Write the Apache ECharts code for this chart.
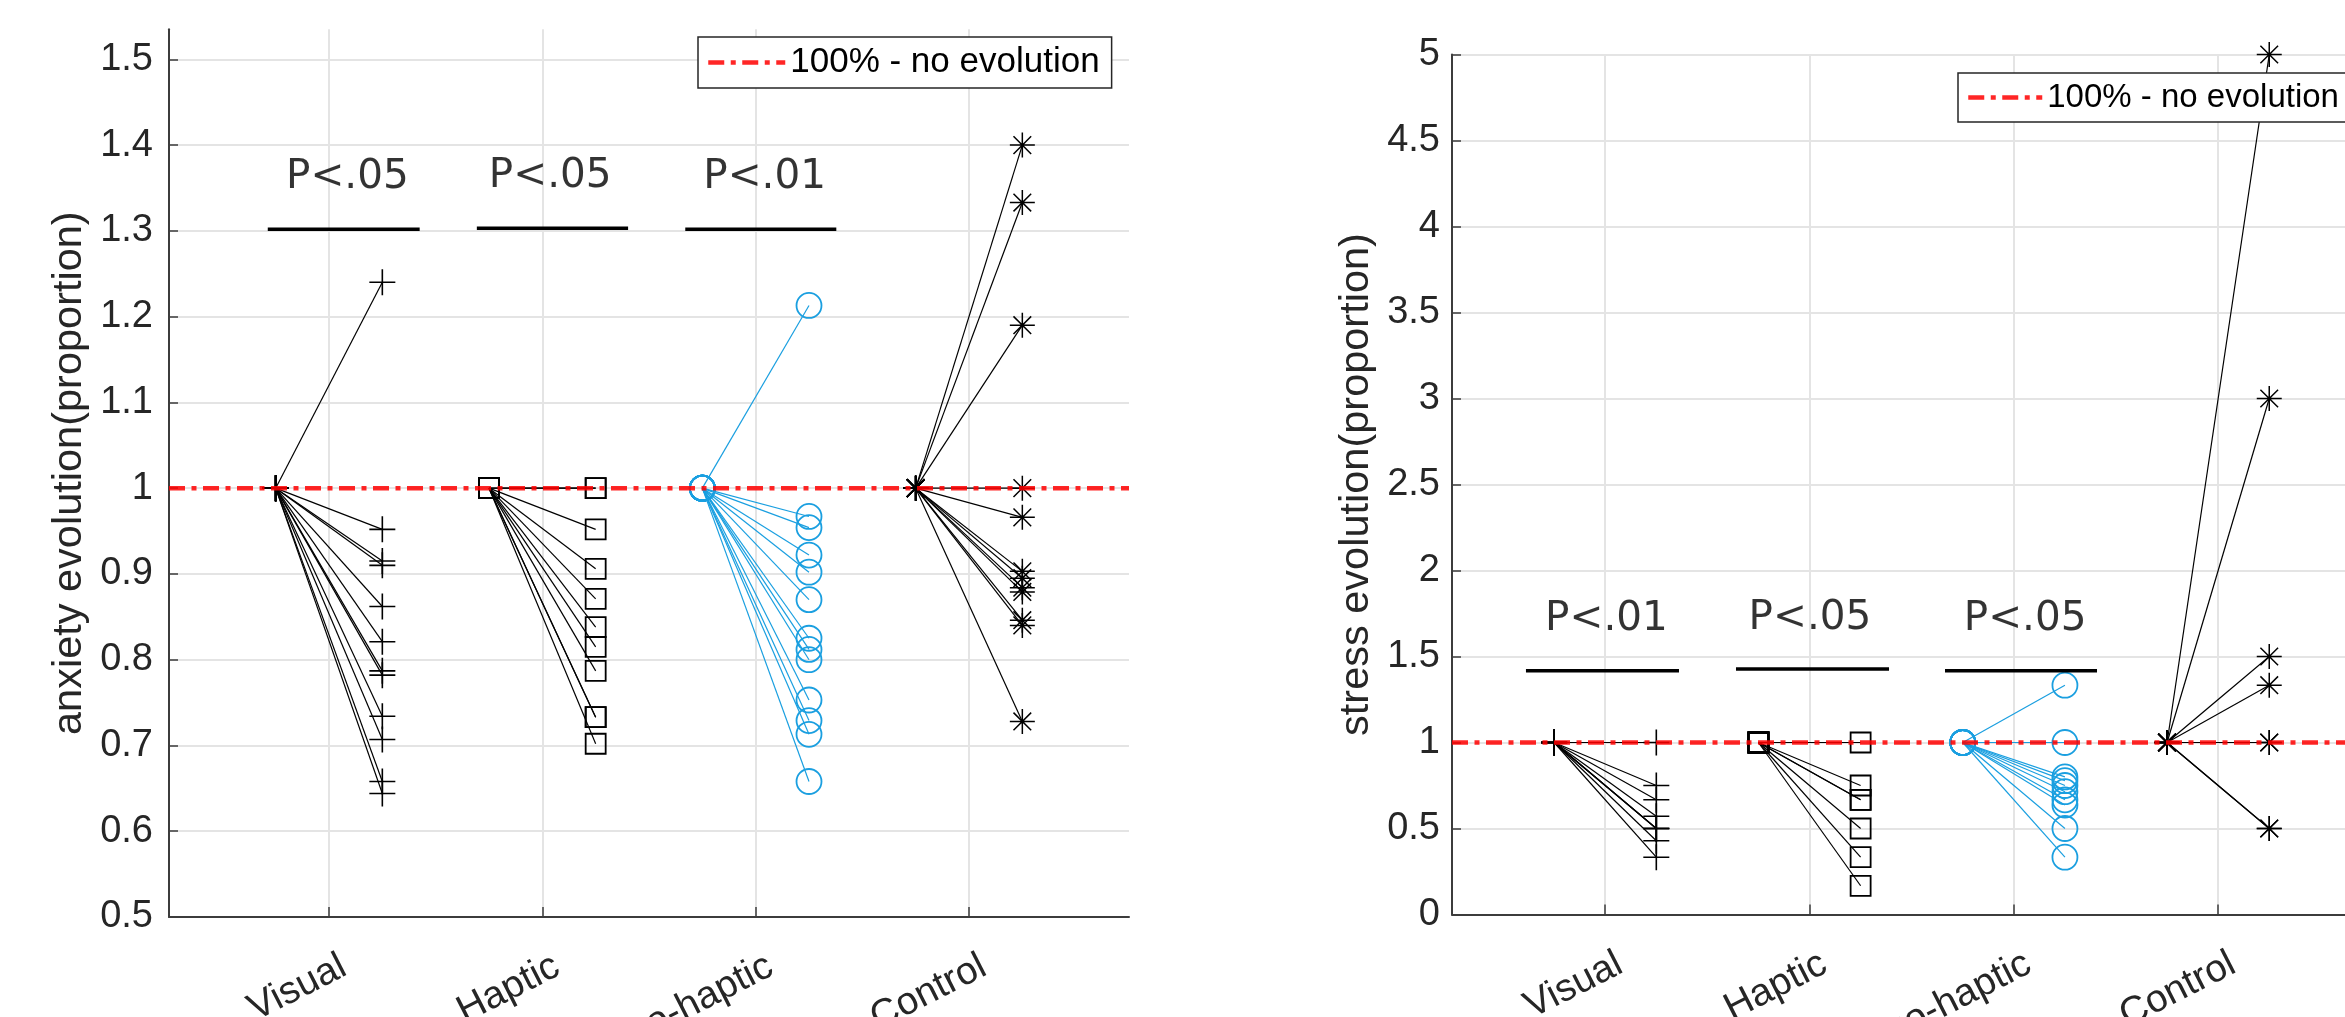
<!DOCTYPE html>
<html><head><meta charset="utf-8">
<script src="https://cdn.jsdelivr.net/npm/echarts@6/dist/echarts.min.js"></script>
<style>html,body{margin:0;padding:0;background:#fff}#c{width:2345px;height:1017px}</style>
</head><body><div id="c"></div>
<script>
// ---------- data ----------
const categories = ['Visual', 'Haptic', 'Visuo-haptic', 'Control'];
const categoryPos = [1, 2, 3, 4];
const preValue = 1; // every subject normalised to 1 before

const anxietyVisual = [1.24, 0.952, 0.915, 0.910, 0.862, 0.821, 0.787, 0.782, 0.734, 0.707, 0.658, 0.644];
const anxietyHaptic = [1.0, 1.0, 0.952, 0.906, 0.871, 0.838, 0.815, 0.787, 0.733, 0.733, 0.702];
const anxietyVisuoHaptic = [1.213, 0.967, 0.954, 0.922, 0.902, 0.870, 0.825, 0.812, 0.800, 0.753, 0.729, 0.713, 0.658];
const anxietyControl = [1.4, 1.333, 1.19, 1.0, 0.966, 0.903, 0.895, 0.884, 0.879, 0.846, 0.840, 0.728];

const stressVisual = [1.0, 0.75, 0.667, 0.571, 0.5, 0.5, 0.5, 0.429, 0.333];
const stressHaptic = [1.0, 0.75, 0.667, 0.667, 0.5, 0.333, 0.167];
const stressVisuoHaptic = [1.333, 1.0, 0.8, 0.778, 0.75, 0.714, 0.667, 0.636, 0.5, 0.333];
const stressControl = [5, 3, 1.5, 1.333, 1.0, 1.0, 0.5, 0.5];

const anxietyTicks = [0.5, 0.6, 0.7, 0.8, 0.9, 1.0, 1.1, 1.2, 1.3, 1.4, 1.5];
const stressTicks = [0, 0.5, 1, 1.5, 2, 2.5, 3, 3.5, 4, 4.5, 5];

const anxietySigText = ['P<.05', 'P<.05', 'P<.01'];
const anxietySigStart = [0.713, 1.693, 2.670];
const anxietySigEnd = [1.425, 2.402, 3.378];
const anxietySigY = [1.302, 1.303, 1.302];
const anxietySigTextX = [1.086, 2.037, 3.042];

const stressSigText = ['P<.01', 'P<.05', 'P<.05'];
const stressSigStart = [0.612, 1.640, 2.663];
const stressSigEnd = [1.361, 2.389, 3.407];
const stressSigY = [1.417, 1.427, 1.417];
const stressSigTextX = [1.006, 2.002, 3.055];

const legendName = '100% - no evolution';
const anxietyName = 'anxiety evolution(proportion)';
const stressName = 'stress evolution(proportion)';

// ---------- styles ----------
const PRE_OFF = -0.25, POST_OFF = 0.25;
const X_MIN = 0.25, X_MAX = 4.75;
const BLUE = '#1a9fe0';
const RED = 'rgba(255,0,0,0.85)';
const DASH = [16, 6.5, 5, 6.5];
const PLUS = 'path://M0,-10L0,10M-10,0L10,0';
const STAR = 'path://M0,-10L0,10M-10,0L10,0M-7.07,-7.07L7.07,7.07M-7.07,7.07L7.07,-7.07';
const markers = [
  {symbol: PLUS, size: 26, color: '#000', bw: 1.6},
  {symbol: 'rect', size: 20, color: '#000', bw: 1.8},
  {symbol: 'circle', size: 25, color: BLUE, bw: 1.8},
  {symbol: STAR, size: 25, color: '#000', bw: 1.5}
];
const axisColor = '#3c3c3c';
const textColor = '#262626';
const gridColor = '#e4e4e4';

const series = [];
function addSubjects(gi, groups) {
  groups.forEach((vals, ci) => {
    const m = markers[ci];
    const x = categoryPos[ci];
    vals.forEach(v => {
      series.push({
        type: 'line', xAxisIndex: gi, yAxisIndex: gi, z: 2,
        data: [[x + PRE_OFF, preValue], [x + POST_OFF, v]],
        symbol: m.symbol, symbolSize: m.size,
        itemStyle: {color: 'rgba(0,0,0,0)', borderColor: m.color, borderWidth: m.bw},
        lineStyle: {color: m.color, width: 1.2},
        silent: true, animation: false
      });
    });
  });
}
addSubjects(0, [anxietyVisual, anxietyHaptic, anxietyVisuoHaptic, anxietyControl]);
addSubjects(1, [stressVisual, stressHaptic, stressVisuoHaptic, stressControl]);

[0, 1].forEach(gi => {
  series.push({
    name: legendName, type: 'line', xAxisIndex: gi, yAxisIndex: gi, z: 5,
    data: [[X_MIN, preValue], [X_MAX, preValue]], symbol: 'none',
    itemStyle: {color: RED},
    lineStyle: {color: RED, width: 4.5, type: DASH, cap: 'butt'},
    silent: true, animation: false
  });
});

function addSig(gi, starts, ends, ys, texts, textX, dist) {
  starts.forEach((s, i) => {
    series.push({
      type: 'line', xAxisIndex: gi, yAxisIndex: gi, z: 3, symbol: 'none',
      data: [[s, ys[i]], [ends[i], ys[i]]],
      lineStyle: {color: '#000', width: 3.5}, silent: true, animation: false
    });
  });
  series.push({
    type: 'scatter', xAxisIndex: gi, yAxisIndex: gi, z: 6, symbolSize: 1,
    itemStyle: {color: 'rgba(0,0,0,0)'}, silent: true, animation: false,
    data: texts.map((t, i) => ({name: t, value: [textX[i], ys[i]]})),
    label: {show: true, position: 'top', distance: dist, formatter: '{b}',
      fontFamily: 'DejaVu Sans', fontSize: 40.5, color: '#000'}
  });
}
addSig(0, anxietySigStart, anxietySigEnd, anxietySigY, anxietySigText, anxietySigTextX, 31);
addSig(1, stressSigStart, stressSigEnd, stressSigY, stressSigText, stressSigTextX, 30);

function xAxisCfg(gi, shift) {
  return {
    type: 'value', gridIndex: gi, min: X_MIN, max: X_MAX,
    axisLine: {show: true, onZero: false, lineStyle: {color: axisColor, width: 2}},
    axisTick: {show: true, inside: true, length: 10, customValues: categoryPos, lineStyle: {color: axisColor, width: 1.5}},
    splitLine: {show: true, lineStyle: {color: gridColor, width: 2}},
    axisLabel: {
      show: true, rotate: 27, margin: 30, align: 'right', verticalAlign: 'top',
      customValues: categoryPos.map(p => p + shift),
      formatter: v => categories[Math.round(v) - 1],
      fontFamily: 'Liberation Sans', fontSize: 38.5, color: textColor
    }
  };
}
function yAxisCfg(gi, min, max, ticks, name, gap, margin) {
  return {
    type: 'value', gridIndex: gi, min: min, max: max,
    name: name, nameLocation: 'middle', nameGap: gap, nameRotate: 90,
    nameTextStyle: {fontFamily: 'Liberation Sans', fontSize: 41.5, color: textColor},
    axisLine: {show: true, lineStyle: {color: axisColor, width: 2}},
    axisTick: {show: true, inside: true, length: 9, customValues: ticks, lineStyle: {color: axisColor, width: 1.5}},
    splitLine: {show: true, lineStyle: {color: gridColor, width: 2}},
    axisLabel: {show: true, customValues: ticks, margin: margin,
      fontFamily: 'Liberation Sans', fontSize: 38, color: textColor}
  };
}

const legendCommon = {
  data: [legendName], selectedMode: false, orient: 'horizontal',
  borderColor: '#262626', borderWidth: 1.5, backgroundColor: '#fff', borderRadius: 0,
  itemHeight: 14,
  itemStyle: {color: 'rgba(0,0,0,0)', borderWidth: 0, opacity: 0},
  lineStyle: {color: RED, width: 4.5, type: DASH, opacity: 1},
  textStyle: {fontFamily: 'Liberation Sans', color: '#000'}
};

const option = {
  animation: false,
  backgroundColor: '#fff',
  grid: [
    {left: 169, top: 29.3, width: 960, height: 887.7, outerBoundsMode: 'none', containLabel: false},
    {left: 1452, top: 54.5, width: 919.4, height: 860, outerBoundsMode: 'none', containLabel: false}
  ],
  xAxis: [xAxisCfg(0, 6 / 213.2), xAxisCfg(1, 6 / 204.3)],
  yAxis: [
    yAxisCfg(0, 0.5, 1.535, anxietyTicks, anxietyName, 78, 16),
    yAxisCfg(1, 0, 5, stressTicks, stressName, 74, 12)
  ],
  legend: [
    Object.assign({}, legendCommon, {left: 698, top: 37, itemWidth: 77, padding: [8, 12, 8, 8],
      textStyle: {fontFamily: 'Liberation Sans', color: '#000', fontSize: 35}}),
    Object.assign({}, legendCommon, {left: 1958, top: 73, itemWidth: 74, padding: [8, 9, 8, 8],
      textStyle: {fontFamily: 'Liberation Sans', color: '#000', fontSize: 33}})
  ],
  series: series
};

const chart = echarts.init(document.getElementById('c'), null, {renderer: 'canvas', devicePixelRatio: 1});
chart.setOption(option);
</script>
</body></html>
